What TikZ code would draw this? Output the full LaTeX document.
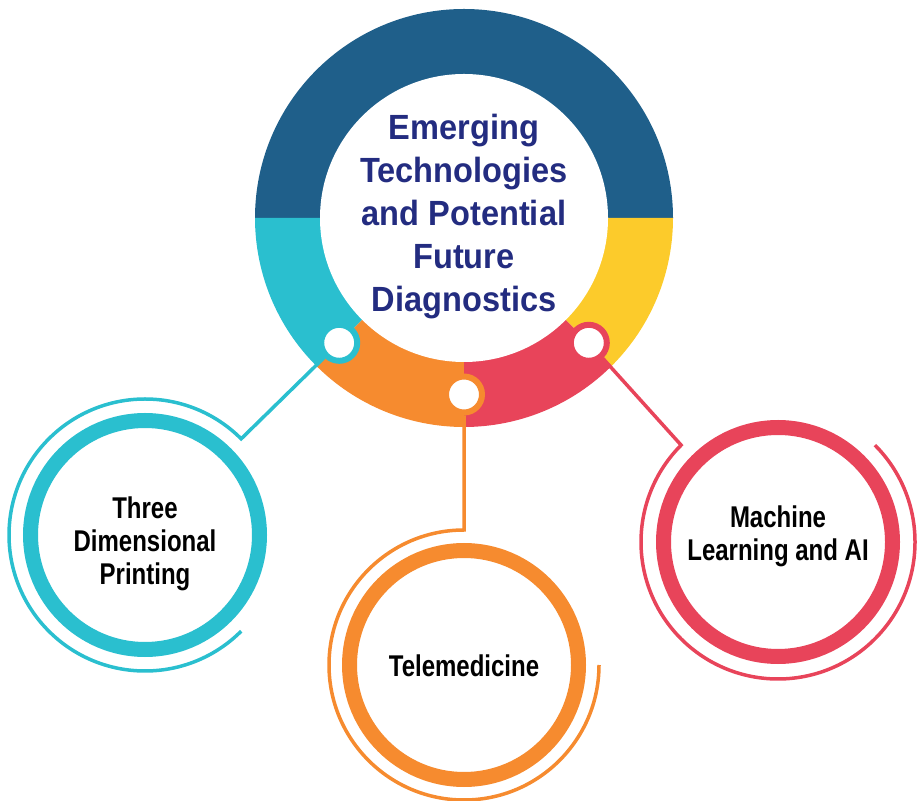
\documentclass[tikz,border=0pt]{standalone}
\usepackage{fontspec}
\setmainfont{Liberation Sans}
\newfontfamily\hubfont{Liberation Sans}[FakeStretch=0.93]
\newfontfamily\leaffont{Liberation Sans}[FakeStretch=0.8]
\usetikzlibrary{calc}

\definecolor{ringblue}{HTML}{1F5F8A}
\definecolor{ringcyan}{HTML}{2ABFCF}
\definecolor{ringyellow}{HTML}{FCCB2B}
\definecolor{ringorange}{HTML}{F68B2F}
\definecolor{ringred}{HTML}{E8445A}
\definecolor{titlenavy}{HTML}{232C80}

\begin{document}
\begin{tikzpicture}[x=1pt,y=1pt,
  hubtext/.style={align=center, text=titlenavy, inner sep=0,
    font=\hubfont\bfseries\fontsize{35}{43}\selectfont},
  joint/.style={circle, fill=white, line width=6, minimum size=36, inner sep=0},
  leaf/.style={circle, fill=white, line width=15, minimum size=229, inner sep=0},
  leaftext/.style={align=center, text=black, inner sep=0,
    font=\leaffont\bfseries\fontsize{30}{33}\selectfont},
  link/.style={line width=3.5}
]
\useasboundingbox (0,0) rectangle (917,800);

% central ring, split into five coloured sectors
\coordinate (C) at (464,582);
\fill[ringblue]   (C) -- ++(0:209)   arc[start angle=0,   end angle=180, radius=209] -- cycle;
\fill[ringcyan]   (C) -- ++(180:209) arc[start angle=180, end angle=225, radius=209] -- cycle;
\fill[ringorange] (C) -- ++(225:209) arc[start angle=225, end angle=270, radius=209] -- cycle;
\fill[ringred]    (C) -- ++(270:209) arc[start angle=270, end angle=315, radius=209] -- cycle;
\fill[ringyellow] (C) -- ++(315:209) arc[start angle=315, end angle=360, radius=209] -- cycle;
\fill[white] (C) circle[radius=144];
\node[hubtext] (hub) at ($(C)+(0,1)$) {Emerging\\Technologies\\and Potential\\Future\\Diagnostics};

% joints on the ring
\node[joint, draw=ringcyan]   (j1) at ($(C)+(225:176.5)$) {};
\node[joint, draw=ringorange] (j2) at ($(C)+(270:176.5)$) {};
\node[joint, draw=ringred]    (j3) at ($(C)+(315:176.5)$) {};

% topic circles and their labels
\node[leaf, draw=ringcyan]   (L) at (145,265) {};
\node[leaf, draw=ringorange] (B) at (464,135) {};
\node[leaf, draw=ringred]    (R) at (778,258) {};
\node[leaftext] (Ltext) at ($(L)+(0,-9)$) {Three\\Dimensional\\Printing};
\node[leaftext] (Btext) at ($(B)+(0,-1)$) {Telemedicine};
\node[leaftext] (Rtext) at ($(R)+(0,6)$) {Machine\\Learning and AI};

% connectors ending in an open outer arc
\coordinate (eL) at ($(L)+(45:136)$);
\coordinate (eB) at ($(B)+(90:135)$);
\coordinate (eR) at ($(R)+(135:137)$);
\draw[link, ringcyan]   (j1) -- (eL) arc[start angle=45,  end angle=315, radius=136];
\draw[link, ringorange] (j2) -- (eB) arc[start angle=90,  end angle=360, radius=135];
\draw[link, ringred]    (j3) -- (eR) arc[start angle=135, end angle=405, radius=137];
\end{tikzpicture}
\end{document}
